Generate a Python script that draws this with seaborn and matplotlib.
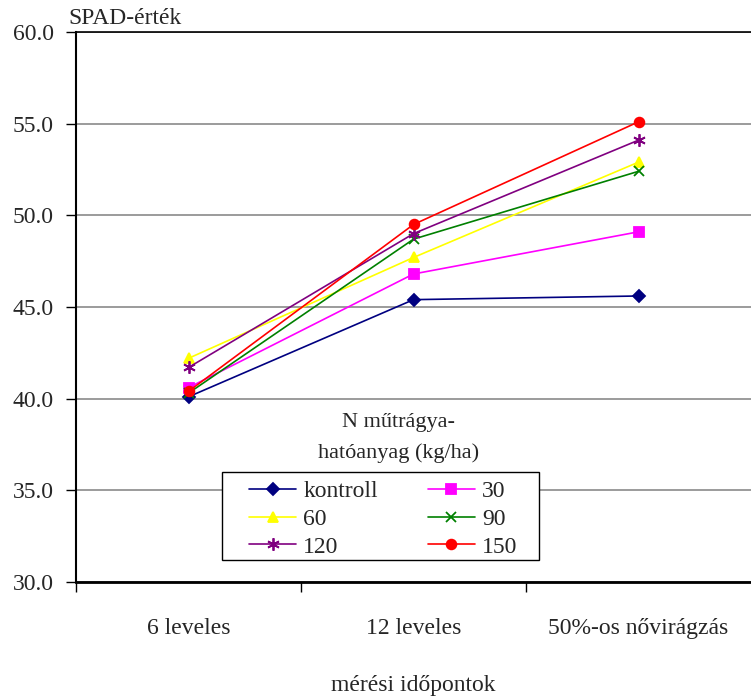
import matplotlib
matplotlib.use("Agg")
import matplotlib.pyplot as plt
import seaborn as sns
import pandas as pd
from matplotlib.ticker import FixedLocator
from matplotlib.patches import Rectangle

# Measurement stages and SPAD readings per nitrogen dose
stages = ["6 leveles", "12 leveles", "50%-os nővirágzás"]
doses = ["kontroll", "30", "60", "90", "120", "150"]
kontroll = [40.1, 45.4, 45.6]
n30 = [40.6, 46.8, 49.1]
n60 = [42.2, 47.7, 52.9]
n90 = [40.3, 48.7, 52.4]
n120 = [41.7, 49.0, 54.1]
n150 = [40.4, 49.5, 55.1]
yticks = [30.0, 35.0, 40.0, 45.0, 50.0, 55.0, 60.0]

series = [kontroll, n30, n60, n90, n120, n150]
df = pd.DataFrame(
    [(s, d, v) for d, vals in zip(doses, series) for s, v in zip(stages, vals)],
    columns=["stage", "dose", "spad"],
)

palette = {"kontroll": "#000080", "30": "#FF00FF", "60": "#FFFF00",
           "90": "#008000", "120": "#800080", "150": "#FF0000"}
markers = {"kontroll": "D", "30": "s", "60": "^", "90": "x",
           "120": (6, 2, 0), "150": "o"}
msizes = {"kontroll": 6.5, "30": 6.5, "60": 7.5, "90": 7.5,
          "120": 9, "150": 7}

sns.set_theme(style="white")
plt.rcParams["font.family"] = ["Liberation Serif", "DejaVu Serif"]
FS = 17

fig = plt.figure(figsize=(7.51, 7.00), dpi=100)
ax = fig.add_axes([0.1012, 0.1686, 0.8988, 0.7857])

for d in doses:
    sub = df[df["dose"] == d]
    sns.lineplot(data=sub, x="stage", y="spad", color=palette[d],
                 marker=markers[d], linewidth=1.2, markersize=msizes[d],
                 markeredgewidth=1.3, markeredgecolor=palette[d],
                 ax=ax, sort=False, label=d)

ax.set_ylim(30, 60)
ax.set_xlim(-0.5, 2.5)
ax.set_yticks(yticks)
ax.set_yticklabels([f"{t:.1f}" for t in yticks], fontsize=FS)
ax.yaxis.grid(True, color="#808080", linewidth=1.1)
ax.set_axisbelow(True)

ax.set_xticks(range(len(stages)))
ax.set_xticklabels(stages, fontsize=FS)
ax.xaxis.set_minor_locator(FixedLocator([-0.5, 0.5, 1.5]))
ax.tick_params(axis="x", which="major", length=0, pad=26)
ax.tick_params(axis="x", which="minor", length=7, width=1, color="black",
               direction="out", bottom=True)
ax.tick_params(axis="y", length=7, width=1, color="black",
               direction="out", left=True, pad=9)

ax.spines["right"].set_visible(False)
ax.spines["left"].set_color("black")
ax.spines["left"].set_linewidth(1.5)
ax.spines["bottom"].set_color("black")
ax.spines["bottom"].set_linewidth(2)
ax.spines["top"].set_color("black")
ax.spines["top"].set_linewidth(1.2)

ax.set_xlabel("mérési időpontok", fontsize=FS, labelpad=26)
ax.set_ylabel("")
ax.text(-0.012, 1.005, "SPAD-érték", transform=ax.transAxes, fontsize=FS,
        ha="left", va="bottom")

ax.text(0.478, 0.262, "N műtrágya-\nhatóanyag (kg/ha)", transform=ax.transAxes,
        fontsize=16, ha="center", va="center", linespacing=1.75)

# legend laid out row-wise: kontroll, 30 / 60, 90 / 120, 150
handles, labels = ax.get_legend_handles_labels()
order = [0, 2, 4, 1, 3, 5]
leg = ax.legend([handles[i] for i in order], [labels[i] for i in order],
                ncol=2, loc="center", bbox_to_anchor=(0.455, 0.114),
                fontsize=FS, frameon=False, handlelength=2.0,
                columnspacing=2.1, handletextpad=0.3, labelspacing=0.26,
                borderpad=0.2, borderaxespad=0)
ax.add_patch(Rectangle((0.216, 0.04), 0.47, 0.16, transform=ax.transAxes,
                       facecolor="white", edgecolor="black", linewidth=1,
                       zorder=4))
leg.set_zorder(5)

fig.savefig("out.png", dpi=100)
